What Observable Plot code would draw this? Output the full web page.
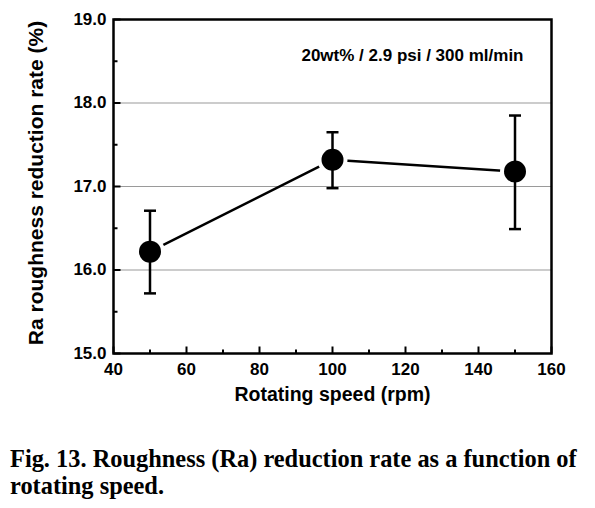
<!DOCTYPE html>
<html>
<head>
<meta charset="utf-8">
<script src="https://cdn.jsdelivr.net/npm/d3@7"></script>
<script src="https://cdn.jsdelivr.net/npm/@observablehq/plot@0.6"></script>
<style>
  body { margin: 0; background: #fff; }
  #chart svg { display: block; }
  #caption {
    font-family: "Liberation Serif", "Times New Roman", serif;
    font-weight: bold;
    font-size: 24.4px;
    line-height: 27px;
    color: #000;
    padding: 25px 0 0 10px;
    white-space: nowrap;
  }
</style>
</head>
<body>
<div id="chart"></div>
<div id="caption">Fig. 13. Roughness (Ra) reduction rate as a function of<br>rotating speed.</div>
<script>
// ---- data ----
const speeds = [50, 100, 150];
const reduction = [16.22, 17.32, 17.18];
const errLow = [15.72, 16.98, 16.49];
const errHigh = [16.71, 17.65, 17.85];

const xMajorTicks = [40, 60, 80, 100, 120, 140, 160];
const xMinorTicks = [50, 70, 90, 110, 130, 150];
const yMajorTicks = [15, 16, 17, 18, 19];
const yMinorTicks = [15.5, 16.5, 17.5, 18.5];
const gridValues = [16, 17, 18];

const xTitle = "Rotating speed (rpm)";
const yTitle = "Ra roughness reduction rate (%)";
const note = "20wt% / 2.9 psi / 300 ml/min";

const rows = speeds.map((s, i) => ({x: s, y: reduction[i], lo: errLow[i], hi: errHigh[i]}));

// custom symbols for inward ticks and error caps
const tickUp = len => ({draw(ctx) { ctx.moveTo(0, 0); ctx.lineTo(0, -len); }});
const tickRight = len => ({draw(ctx) { ctx.moveTo(0, 0); ctx.lineTo(len, 0); }});
const capSym = {draw(ctx) { ctx.moveTo(-6, 0); ctx.lineTo(6, 0); }};

const font = '"Liberation Sans", Arial, sans-serif';

const chart = Plot.plot({
  width: 595,
  height: 420,
  marginLeft: 113,
  marginRight: 44,
  marginTop: 19,
  marginBottom: 67,
  style: {fontFamily: font, fontWeight: "bold", color: "#000", background: "#fff", overflow: "visible"},
  x: {domain: [40, 160]},
  y: {domain: [15, 19]},
  marks: [
    Plot.ruleY(gridValues, {stroke: "#9a9a9a", strokeWidth: 1.2}),
    Plot.axisX(xMajorTicks, {tickSize: 0, tickPadding: 9, fontSize: 17, fontWeight: "bold", tickFormat: d => String(d), label: null}),
    Plot.axisY(yMajorTicks, {tickSize: 0, tickPadding: 7, fontSize: 17, fontWeight: "bold", tickFormat: d => d.toFixed(1), label: null}),
    // inward ticks
    Plot.dot(xMajorTicks, {x: d => d, y: () => 15, symbol: tickUp(7), stroke: "#000", strokeWidth: 2, fill: "none"}),
    Plot.dot(xMinorTicks, {x: d => d, y: () => 15, symbol: tickUp(4), stroke: "#000", strokeWidth: 2, fill: "none"}),
    Plot.dot(yMajorTicks, {x: () => 40, y: d => d, symbol: tickRight(7), stroke: "#000", strokeWidth: 2, fill: "none"}),
    Plot.dot(yMinorTicks, {x: () => 40, y: d => d, symbol: tickRight(4), stroke: "#000", strokeWidth: 2, fill: "none"}),
    // connecting line with gaps around markers
    Plot.line(rows, {x: "x", y: "y", stroke: "#000", strokeWidth: 2.5}),
    Plot.dot(rows, {x: "x", y: "y", r: 15, fill: "#fff", stroke: "none"}),
    // error bars
    Plot.ruleX(rows, {x: "x", y1: "lo", y2: "hi", stroke: "#000", strokeWidth: 2.5}),
    Plot.dot(rows, {x: "x", y: "lo", symbol: capSym, stroke: "#000", strokeWidth: 2.5, fill: "none"}),
    Plot.dot(rows, {x: "x", y: "hi", symbol: capSym, stroke: "#000", strokeWidth: 2.5, fill: "none"}),
    // markers
    Plot.dot(rows, {x: "x", y: "y", r: 11, fill: "#000", stroke: "none"}),
    Plot.frame({stroke: "#000", strokeWidth: 2.5}),
    // annotation and axis titles
    Plot.text([note], {frameAnchor: "top-right", dx: -28, dy: 41.5, text: d => d, textAnchor: "end", lineAnchor: "bottom", fontSize: 17, fontWeight: "bold", fill: "#000"}),
    Plot.text([xTitle], {frameAnchor: "bottom", dy: 47, text: d => d, lineAnchor: "bottom", fontSize: 19.5, fontWeight: "bold", fill: "#000"}),
    Plot.text([yTitle], {frameAnchor: "left", dx: -71, dy: -3.5, text: d => d, rotate: -90, textAnchor: "middle", lineAnchor: "bottom", fontSize: 21, fontWeight: "bold", fill: "#000"})
  ]
});
document.getElementById("chart").appendChild(chart);
</script>
</body>
</html>
